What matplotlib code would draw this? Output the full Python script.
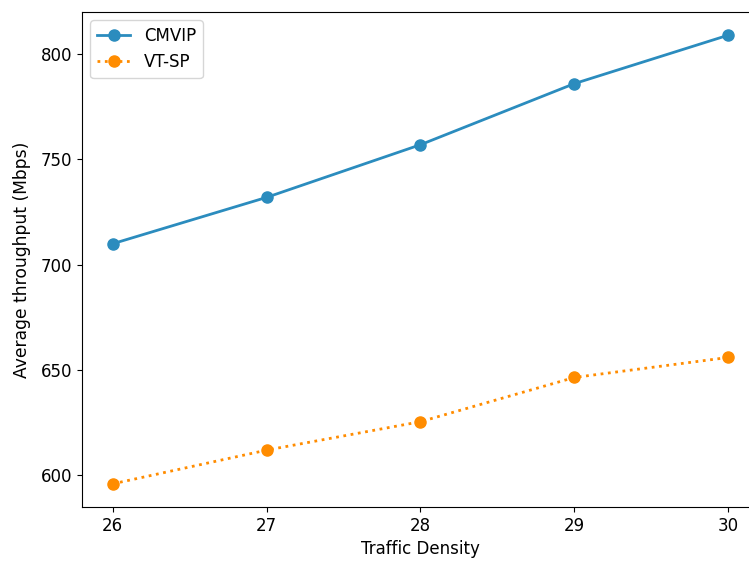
import matplotlib
matplotlib.use("Agg")
import matplotlib.pyplot as plt

density = [26, 27, 28, 29, 30]
cmvip = [710, 732, 757, 786, 809]
vtsp = [596, 612, 625.5, 646.5, 656]

fig = plt.figure(figsize=(7.49, 5.62), dpi=100)
ax = fig.add_axes([82/749, 55/562, 677/749, 495/562])

ax.plot(density, cmvip, marker='o', linestyle='-', color='#2b8cbe',
        linewidth=2, markersize=8, label='CMVIP')
ax.plot(density, vtsp, marker='o', linestyle=':', color='#ff8c00',
        linewidth=2, markersize=8, label='VT-SP')

ax.set_xticks(density)
ax.set_ylim(585, 820)
ax.set_xlabel('Traffic Density', fontsize=12)
ax.set_ylabel('Average throughput (Mbps)', fontsize=12.3, labelpad=7)
ax.tick_params(labelsize=12)
ax.legend(loc='upper left', fontsize=12)

fig.savefig('out.png', dpi=100)
